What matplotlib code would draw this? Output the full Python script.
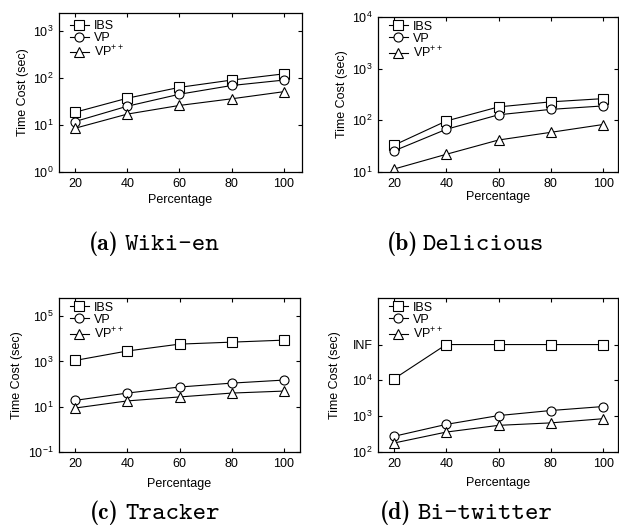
import matplotlib
matplotlib.use("Agg")
import matplotlib.pyplot as plt
from matplotlib.ticker import NullLocator, FixedLocator

plt.rcParams['font.family'] = ['Liberation Sans', 'DejaVu Sans']
plt.rcParams['mathtext.fontset'] = 'custom'
plt.rcParams['mathtext.rm'] = 'Liberation Sans'
plt.rcParams['mathtext.default'] = 'regular'

W, H = 619, 528

percentage = [20, 40, 60, 80, 100]

# (a) Wiki-en
wiki_ibs = [18.6, 37, 63, 90, 122]
wiki_vp = [11.8, 25, 45, 69, 90]
wiki_vpp = [8.5, 17, 26, 36, 51]

# (b) Delicious
deli_ibs = [33, 97, 182, 228, 263]
deli_vp = [25.6, 67, 128, 163, 190]
deli_vpp = [11.4, 22, 41.6, 58.6, 83]

# (c) Tracker
track_ibs = [1100, 2880, 5800, 7100, 8700]
track_vp = [19, 40, 74, 110, 150]
track_vpp = [8.7, 18, 27, 40, 49]

# (d) Bi-twitter, INF drawn at 1e5
INF = 1e5
bitw_ibs = [11000, INF, INF, INF, INF]
bitw_vp = [274, 590, 1040, 1440, 1860]
bitw_vpp = [178, 360, 555, 650, 850]

labels = ['IBS', 'VP', 'VP$^{++}$']
markers = ['s', 'o', '^']
msizes = [6.5, 6.5, 7]

fig = plt.figure(figsize=(W / 100, H / 100), dpi=100)


def make_axes(left, top, right, bottom):
    return fig.add_axes([left / W, 1 - bottom / H, (right - left) / W, (bottom - top) / H])


def draw(ax, series, xlim, ylim, yticks, yticklabels=None,
         ylab_x=-0.12, xlab_y=-0.15, leg_xy=(0.06, 0.97)):
    for s, lab, m, ms in zip(series, labels, markers, msizes):
        ax.plot(percentage, s, color='black', lw=0.8, marker=m, ms=ms,
                mfc='white', mec='black', mew=0.8, label=lab)
    ax.set_yscale('log')
    ax.set_xlim(*xlim)
    ax.set_ylim(*ylim)
    ax.set_xticks(percentage)
    ax.yaxis.set_major_locator(FixedLocator(yticks))
    if yticklabels is not None:
        ax.set_yticklabels(yticklabels)
    ax.yaxis.set_minor_locator(NullLocator())
    ax.tick_params(direction='in', length=3, width=0.8, top=True, right=True,
                   labelsize=9, pad=4)
    for sp in ax.spines.values():
        sp.set_linewidth(0.9)
    ax.set_xlabel('Percentage', fontsize=9)
    ax.set_ylabel('Time Cost (sec)', fontsize=9)
    ax.yaxis.set_label_coords(ylab_x, 0.5)
    ax.xaxis.set_label_coords(0.5, xlab_y)
    ax.legend(loc='upper left', bbox_to_anchor=leg_xy, frameon=False, fontsize=9,
              handlelength=1.5, handletextpad=0.4, labelspacing=0.0,
              borderpad=0, borderaxespad=0)


def caption(x_tag_right, x_name_left, y_base, tag, name):
    fig.text(x_tag_right / W, 1 - y_base / H, tag, ha='right', va='baseline',
             family=['cmb10', 'Liberation Serif'], fontsize=17)
    fig.text(x_name_left / W, 1 - y_base / H, name, ha='left', va='baseline',
             family=['cmtt10', 'Liberation Mono'], fontsize=18.5)


ax_a = make_axes(59, 13, 302, 172)
draw(ax_a, [wiki_ibs, wiki_vp, wiki_vpp], (13.9, 106.9), (1, 10 ** 3.38),
     [1, 10, 100, 1000], ylab_x=-0.123, xlab_y=-0.14, leg_xy=(0.045, 0.955))

ax_b = make_axes(378, 17, 618, 172)
draw(ax_b, [deli_ibs, deli_vp, deli_vpp], (13.9, 105.7), (10, 1e4),
     [10, 100, 1000, 1e4], ylab_x=-0.125, xlab_y=-0.12, leg_xy=(0.045, 0.975))

ax_c = make_axes(59, 298, 300, 452)
draw(ax_c, [track_ibs, track_vp, track_vpp], (13.9, 106.1), (0.1, 10 ** 5.8),
     [0.1, 10, 1000, 1e5], ylab_x=-0.149, xlab_y=-0.17, leg_xy=(0.045, 0.975))

ax_d = make_axes(378, 298, 618, 452)
draw(ax_d, [bitw_ibs, bitw_vp, bitw_vpp], (13.9, 105.7), (100, 10 ** 6.3),
     [100, 1000, 1e4, 1e5], ['$10^{2}$', '$10^{3}$', '$10^{4}$', 'INF'],
     ylab_x=-0.154, xlab_y=-0.16, leg_xy=(0.045, 0.975))

caption(119, 125, 250, '(a)', 'Wiki-en')
caption(418, 423, 250, '(b)', 'Delicious')
caption(119, 125, 519, '(c)', 'Tracker')
caption(411, 418, 519, '(d)', 'Bi-twitter')

fig.savefig('out.png', dpi=100)
